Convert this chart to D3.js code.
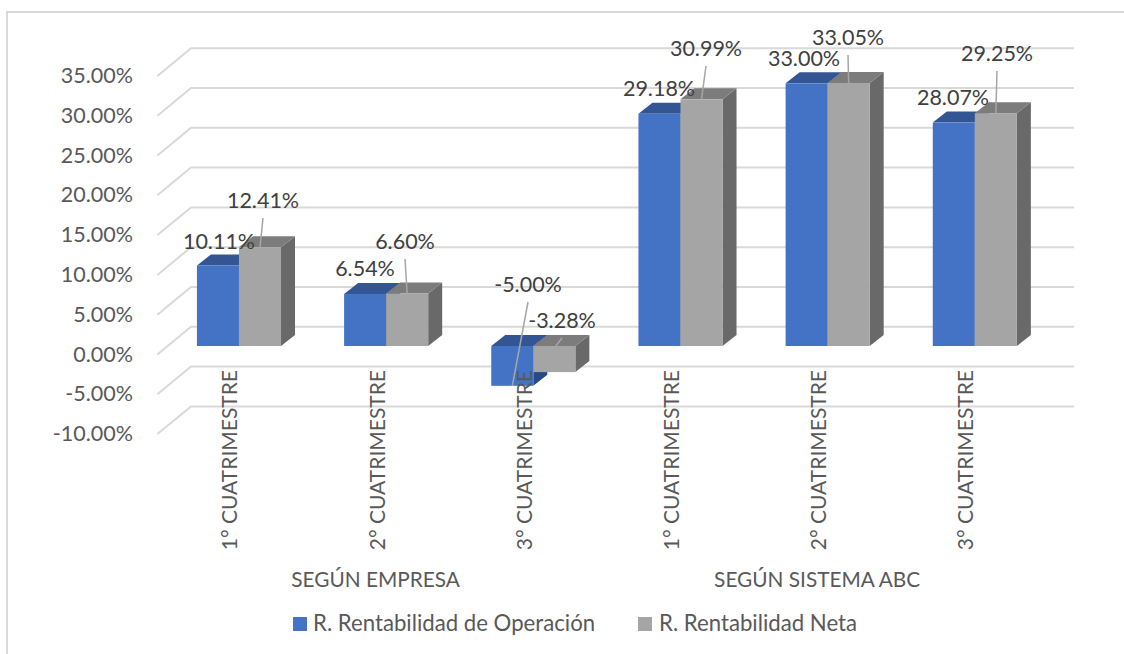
<!DOCTYPE html>
<html><head><meta charset="utf-8">
<script src="https://cdn.jsdelivr.net/npm/d3@7"></script>
<style>html,body{margin:0;padding:0;background:#fff}svg{display:block}text{font-family:Lato,"Open Sans",sans-serif}</style>
</head><body><div id="chart"></div>
<script>
const categories = ["1° CUATRIMESTRE","2° CUATRIMESTRE","3° CUATRIMESTRE","1° CUATRIMESTRE","2° CUATRIMESTRE","3° CUATRIMESTRE"];
const groups = ["SEGÚN EMPRESA","SEGÚN SISTEMA ABC"];
const operacion = [10.11,6.54,-5.00,29.18,33.00,28.07];
const neta = [12.41,6.60,-3.28,30.99,33.05,29.25];
const seriesNames = ["R. Rentabilidad de Operación","R. Rentabilidad Neta"];
const yTicks = [-10,-5,0,5,10,15,20,25,30,35];

const W=1124,H=654;
const svg=d3.select("#chart").append("svg").attr("width",W).attr("height",H);
svg.append("rect").attr("width",W).attr("height",H).attr("fill","#fff");
// chart frame: the crop cuts it off on the right and at the bottom
svg.append("path").attr("d",`M7,${H}V12H${W}`).attr("fill","none").attr("stroke","#d9d9d9").attr("stroke-width",2);

const x=d3.scaleBand().domain(d3.range(6)).range([165.4,1048.4]).paddingInner(0.4287).paddingOuter(0.2143);
const y=d3.scaleLinear().domain([-10,35]).range([425.6,67.4]);   // bar front plane
const back={dx:25.6,dy:-19.2}, gridFront={dx:-8,dy:8.5}, depth={dx:14,dy:-11};
const bw=x.bandwidth()/2;
const pct=v=>v.toFixed(2)+"%";

// walls
const g=svg.append("g").attr("stroke","#d9d9d9").attr("stroke-width",2).attr("fill","none");
yTicks.forEach(t=>{
  const yy=y(t);
  g.append("path").attr("d",`M${x.range()[0]+gridFront.dx},${yy+gridFront.dy}L${x.range()[0]+back.dx},${yy+back.dy}H${x.range()[1]+back.dx}`);
});
// y axis labels
svg.append("g").selectAll("text").data(yTicks).join("text")
  .attr("x",133).attr("y",t=>y(t)+gridFront.dy+7).attr("text-anchor","end")
  .attr("font-size",21.5).attr("fill","#595959")
  .text(pct);

function bar(v,i,s,cols){
  const x0=x(i)+s*bw,x1=x0+bw,y0=y(0),yv=y(v),top=Math.min(y0,yv),bot=Math.max(y0,yv);
  const b=svg.append("g");
  b.append("path").attr("fill",cols[2]).attr("d",`M${x1},${top}L${x1+depth.dx},${top+depth.dy}V${bot+depth.dy}L${x1},${bot}Z`);
  b.append("path").attr("fill",cols[1]).attr("d",`M${x0},${top}L${x0+depth.dx},${top+depth.dy}H${x1+depth.dx}L${x1},${top}Z`);
  b.append("rect").attr("x",x0).attr("y",top).attr("width",bw).attr("height",bot-top).attr("fill",cols[0]);
}
const blue=["#4472c4","#335593","#274a85"], grey=["#a5a5a5","#7c7c7c","#696969"];
d3.range(6).forEach(i=>{bar(operacion[i],i,0,blue);bar(neta[i],i,1,grey);});

// category labels
svg.append("g").selectAll("text").data(categories).join("text")
  .attr("transform",(d,i)=>`translate(${x(i)+bw-9},370) rotate(-90)`)
  .attr("text-anchor","end").attr("dy","0.35em").attr("font-size",21).attr("fill","#595959").text(d=>d);
// group labels
svg.append("g").selectAll("text").data(groups).join("text")
  .attr("x",(d,i)=>(x(i*3)+x(i*3+2)+2*bw)/2-10.5).attr("y",587).attr("text-anchor","middle")
  .attr("font-size",20.8).attr("fill","#595959").text(d=>d);

// data labels with leader lines
const lab=svg.append("g");
const opLabelPos=[[219,241],[365,268],[528,284],[659,88],[804,58],[953,97]];
const netLabelPos=[[263,200],[405,241],[562,320],[706,48],[848,37],[997,53]];
function leader(pos,i,s,to){
  const cx=x(i)+s*bw+bw/2;
  lab.append("line").attr("x1",pos[0]).attr("y1",pos[1]+18).attr("x2",cx).attr("y2",to)
     .attr("stroke","#a6a6a6").attr("stroke-width",1.5);
}
leader(opLabelPos[2],2,0,y(operacion[2]));
neta.forEach((v,i)=>leader(netLabelPos[i],i,1,i==2?y(0)+2:y(v)));
const texts=[];
operacion.forEach((v,i)=>texts.push([opLabelPos[i],v]));
neta.forEach((v,i)=>texts.push([netLabelPos[i],v]));
lab.selectAll("text").data(texts).join("text")
  .attr("x",d=>d[0][0]).attr("y",d=>d[0][1]+7.5).attr("text-anchor","middle")
  .attr("font-size",21.5).attr("fill","#404040").text(d=>pct(d[1]));

// legend
const leg=svg.append("g");
[[293,313,"#4472c4"],[638,659,"#a5a5a5"]].forEach((d,i)=>{
  leg.append("rect").attr("x",d[0]).attr("y",617).attr("width",14).attr("height",14).attr("fill",d[2]);
  leg.append("text").attr("x",d[1]).attr("y",631).attr("font-size",22.2).attr("fill","#595959").text(seriesNames[i]);
});
</script></body></html>
